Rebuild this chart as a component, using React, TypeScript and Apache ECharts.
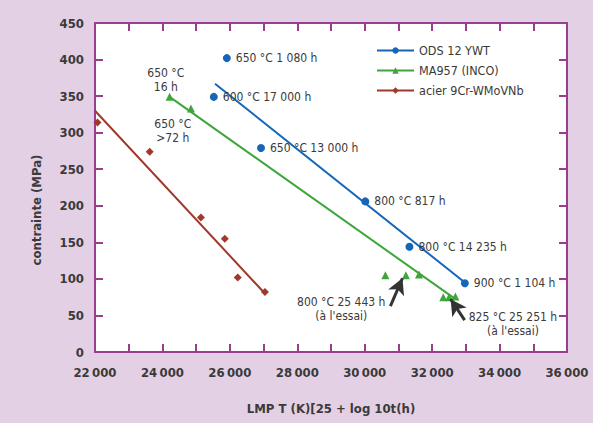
import React, { useEffect, useRef } from "react";
import * as echarts from "echarts";

const FONT = "'DejaVu Sans Condensed', 'Liberation Sans Narrow', 'Roboto', sans-serif";

const xTicks = [22000, 36000, 1000];
const yTicks = [0, 450, 50];

const odsX = [25910, 25524, 26923, 30018, 31327, 32970];
const odsY = [402, 349, 279, 206, 144, 94];
const odsLabels = ["650 °C 1 080 h", "600 °C 17 000 h", "650 °C 13 000 h", "800 °C 817 h", "800 °C 14 235 h", "900 °C 1 104 h"];
const odsFitX = [25560, 32970];
const odsFitY = [367, 95];

const maX = [24214, 24845, 30613, 31220, 31610, 32330, 32500, 32690];
const maY = [349, 333, 105, 105, 106, 75, 75, 76];
const maFitX = [24214, 32640];
const maFitY = [349, 74];

const acX = [22074, 23622, 25143, 25851, 26235, 27040];
const acY = [314, 274, 184, 155, 102, 82];
const acFitX = [22000, 27040];
const acFitY = [330, 80];

const noteText = ["650 °C\n16 h", "650 °C\n>72 h", "800 °C 25 443 h\n(à l'essai)", "825 °C 25 251 h\n(à l'essai)"];
const noteX = [24100, 24307, 29304, 34396];
const noteY = [372, 302, 59, 38];

const arrowFromX = [30762, 32964];
const arrowFromY = [62.7, 43.6];
const arrowToX = [31119, 32548];
const arrowToY = [100.9, 72.3];

const names = ["ODS 12 YWT", "MA957 (INCO)", "acier 9Cr-WMoVNb"];
const colors = ["#1565b8", "#3da63a", "#a0392b"];

const FRAME = "#9b3d8e";
const TEXT = "#3a3a3a";

function fmt(v: number) {
  if (v % 2000 !== 0) return "";
  const s = String(v);
  return s.slice(0, s.length - 3) + "\u2009" + s.slice(s.length - 3);
}

export default function App() {
  const ref = useRef<HTMLDivElement>(null);
  useEffect(() => {
    if (!ref.current) return;
    const chart = echarts.init(ref.current, null, { renderer: "svg" });
    const axisCommon = {
      axisLine: { show: true, onZero: false, lineStyle: { color: FRAME, width: 2 } },
      axisTick: { show: true, inside: true, length: 8, lineStyle: { color: FRAME, width: 2 } },
      splitLine: { show: false },
    };
    const labelStyle = { color: TEXT, fontFamily: FONT, fontSize: 13, fontWeight: "bold" as const };
    const noteStyle = { color: TEXT, fontFamily: FONT, fontSize: 12 };
    const fitSeries = (i: number, xs: number[], ys: number[], symbol: string) => ({
      name: names[i],
      type: "line",
      data: xs.map((x, k) => [x, ys[k]]),
      symbol,
      symbolSize: 7,
      showSymbol: false,
      lineStyle: { color: colors[i], width: 2 },
      itemStyle: { color: colors[i] },
      z: 2,
    });
    const ptSeries = (i: number, xs: number[], ys: number[], symbol: string, size: number, labels?: string[]) => ({
      name: names[i] + " pts",
      type: "scatter",
      data: xs.map((x, k) => ({
        value: [x, ys[k]],
        label: labels
          ? { show: true, formatter: labels[k], position: "right", distance: 5, ...noteStyle }
          : { show: false },
      })),
      symbol,
      symbolSize: size,
      itemStyle: { color: colors[i], opacity: 1 },
      z: 3,
    });
    chart.setOption({
      animation: false,
      backgroundColor: "#e4d0e4",
      grid: { left: 95, right: 26, top: 23, bottom: 71, show: true, backgroundColor: "#ffffff", borderWidth: 0 },
      xAxis: [
        {
          type: "value", position: "bottom", min: xTicks[0], max: xTicks[1], interval: xTicks[2], ...axisCommon,
          axisLabel: { ...labelStyle, margin: 14, formatter: fmt, showMinLabel: true, showMaxLabel: true },
          name: "LMP T (K)[25 + log 10t(h)", nameLocation: "middle", nameGap: 50,
          nameTextStyle: { ...labelStyle, fontSize: 13 },
        },
        {
          type: "value", position: "top", min: xTicks[0], max: xTicks[1], interval: xTicks[2], ...axisCommon,
          axisLabel: { show: false },
        },
      ],
      yAxis: [
        {
          type: "value", position: "left", min: yTicks[0], max: yTicks[1], interval: yTicks[2], ...axisCommon,
          axisLabel: { ...labelStyle, margin: 11 },
        },
        {
          type: "value", position: "right", min: yTicks[0], max: yTicks[1], interval: yTicks[2], ...axisCommon,
          axisLabel: { show: false },
        },
      ],
      legend: {
        data: names,
        orient: "vertical",
        left: 376,
        top: 44,
        padding: 0,
        itemWidth: 37,
        itemHeight: 8,
        itemGap: 7,
        textStyle: { color: TEXT, fontFamily: FONT, fontSize: 12.5, fontWeight: 500 },
      },
      graphic: [
        {
          type: "text",
          x: 36,
          y: 210,
          rotation: Math.PI / 2,
          style: { text: "contrainte (MPa)", fill: TEXT, font: `bold 13px ${FONT}`, align: "center", verticalAlign: "middle" },
        },
      ],
      series: [
        fitSeries(0, odsFitX, odsFitY, "circle"),
        fitSeries(1, maFitX, maFitY, "triangle"),
        fitSeries(2, acFitX, acFitY, "diamond"),
        ptSeries(0, odsX, odsY, "circle", 8, odsLabels),
        ptSeries(1, maX, maY, "triangle", 8),
        ptSeries(2, acX, acY, "diamond", 8),
        {
          name: "notes",
          type: "scatter",
          symbolSize: 0,
          itemStyle: { opacity: 1 },
          data: noteX.map((x, k) => ({
            value: [x, noteY[k]],
            label: { show: true, formatter: noteText[k], position: "inside", align: "center", verticalAlign: "middle", lineHeight: 14, ...noteStyle },
          })),
          markLine: {
            silent: true,
            symbol: ["none", "arrow"],
            symbolSize: [13, 16],
            label: { show: false },
            lineStyle: { color: "#333333", width: 3, type: "solid", opacity: 1 },
            data: arrowFromX.map((x, k) => [
              { coord: [x, arrowFromY[k]] },
              { coord: [arrowToX[k], arrowToY[k]] },
            ]),
          },
          z: 4,
        },
      ],
    });
    return () => chart.dispose();
  }, []);
  return <div ref={ref} style={{ position: "fixed", left: 0, top: 0, width: 593, height: 423 }} />;
}
